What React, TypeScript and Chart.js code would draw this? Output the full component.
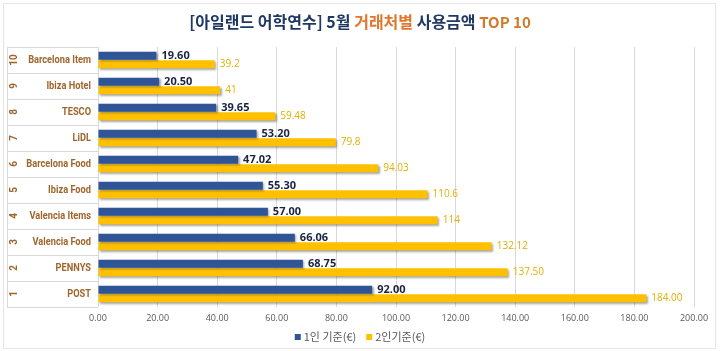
import React, { useEffect, useRef } from "react";
import { Chart, registerables } from "chart.js";

Chart.register(...registerables);

const ranks = ["10", "9", "8", "7", "6", "5", "4", "3", "2", "1"];
const categories = [
  "Barcelona Item",
  "Ibiza Hotel",
  "TESCO",
  "LiDL",
  "Barcelona Food",
  "Ibiza Food",
  "Valencia Items",
  "Valencia Food",
  "PENNYS",
  "POST",
];
const onePerson = [19.6, 20.5, 39.65, 53.2, 47.02, 55.3, 57.0, 66.06, 68.75, 92.0];
const onePersonLabels = ["19.60", "20.50", "39.65", "53.20", "47.02", "55.30", "57.00", "66.06", "68.75", "92.00"];
const twoPerson = [39.2, 41, 59.48, 79.8, 94.03, 110.6, 114, 132.12, 137.5, 184.0];
const twoPersonLabels = ["39.2", "41", "59.48", "79.8", "94.03", "110.6", "114", "132.12", "137.50", "184.00"];
const seriesNames = ["1인 기준(€)", "2인기준(€)"];
const xMin = 0;
const xMax = 200;
const xStep = 20;

const titleParts = [
  { text: "[아일랜드 어학연수] 5월 ", color: "#203864" },
  { text: "거래처별", color: "#e2762e" },
  { text: " 사용금액 ", color: "#203864" },
  { text: "TOP 10", color: "#d07a2c" },
];

const NAVY = "#2f5597";
const GOLD = "#ffc000";
const LABEL_BROWN = "#a0652c";
const LINE = "#d9d9d9";

const decorPlugin = {
  id: "decor",
  beforeDraw(chart: any) {
    const { ctx, width, height } = chart;
    ctx.save();
    ctx.fillStyle = "#ffffff";
    ctx.fillRect(0, 0, width, height);
    ctx.strokeStyle = "#e6e6e6";
    ctx.lineWidth = 1;
    ctx.strokeRect(3.5, 3.5, width - 8, height - 6);
    ctx.restore();
  },
  afterDraw(chart: any) {
    const { ctx, chartArea } = chart;
    const yScale = chart.scales.y;
    ctx.save();
    // title
    ctx.textBaseline = "middle";
    const fontFor = (i: number) =>
      i === 3 ? "bold 15px 'Noto Sans CJK KR', 'Noto Sans', sans-serif" : "bold 16px 'Noto Sans CJK KR', sans-serif";
    let total = 0;
    titleParts.forEach((p, i) => {
      ctx.font = fontFor(i);
      total += ctx.measureText(p.text).width;
    });
    let x = 360 - total / 2;
    titleParts.forEach((p, i) => {
      ctx.font = fontFor(i);
      ctx.fillStyle = p.color;
      ctx.textAlign = "left";
      ctx.fillText(p.text, x, 22);
      x += ctx.measureText(p.text).width;
    });

    // category box lines
    const n = categories.length;
    const step = yScale.getPixelForValue(1) - yScale.getPixelForValue(0);
    ctx.strokeStyle = LINE;
    ctx.lineWidth = 1;
    for (let i = 0; i <= n; i++) {
      const yy = Math.round(yScale.getPixelForValue(0) - step / 2 + i * step) + 0.5;
      ctx.beginPath();
      ctx.moveTo(7, yy);
      ctx.lineTo(chartArea.left, yy);
      ctx.stroke();
    }
    ctx.beginPath();
    ctx.moveTo(7.5, chartArea.top);
    ctx.lineTo(7.5, chartArea.bottom);
    ctx.stroke();

    // category names (condensed bold)
    ctx.fillStyle = LABEL_BROWN;
    ctx.textBaseline = "middle";
    ctx.textAlign = "right";
    ctx.font = "bold 11px Roboto, sans-serif";
    for (let i = 0; i < n; i++) {
      const yy = yScale.getPixelForValue(i);
      ctx.save();
      ctx.translate(91, yy);
      ctx.scale(0.84, 1);
      ctx.fillText(categories[i], 0, 0);
      ctx.restore();
    }

    // rank numbers rotated
    ctx.font = "bold 10px Roboto, sans-serif";
    ctx.textAlign = "center";
    for (let i = 0; i < n; i++) {
      const yy = yScale.getPixelForValue(i);
      ctx.save();
      ctx.translate(14, yy);
      ctx.rotate(-Math.PI / 2);
      ctx.fillText(ranks[i], 0, 0);
      ctx.restore();
    }

    // legend
    const colors = [NAVY, GOLD];
    ctx.font = "11px 'Noto Sans CJK KR', sans-serif";
    ctx.textAlign = "left";
    const box = 6;
    const gap = 3;
    const itemGap = 10;
    const widths = seriesNames.map((s) => box + gap + ctx.measureText(s).width);
    const totalW = widths[0] + widths[1] + itemGap;
    let lx = 360 - totalW / 2;
    const ly = 337;
    seriesNames.forEach((s, i) => {
      ctx.fillStyle = colors[i];
      ctx.fillRect(lx, ly - box / 2, box, box);
      ctx.fillStyle = "#595959";
      ctx.fillText(s, lx + box + gap, ly);
      lx += widths[i] + itemGap;
    });
    ctx.restore();
  },
  beforeDatasetsDraw(chart: any) {
    const ctx = chart.ctx;
    ctx.save();
    ctx.shadowColor = "rgba(0,0,0,0.35)";
    ctx.shadowOffsetX = 1.5;
    ctx.shadowOffsetY = 1.5;
    ctx.shadowBlur = 2;
  },
  afterDatasetsDraw(chart: any) {
    const ctx = chart.ctx;
    ctx.restore();
    ctx.save();
    ctx.textBaseline = "middle";
    ctx.textAlign = "left";
    const labelSets = [onePersonLabels, twoPersonLabels];
    chart.data.datasets.forEach((ds: any, di: number) => {
      const meta = chart.getDatasetMeta(di);
      if (meta.hidden) return;
      if (di === 0) {
        ctx.font = "bold 11px 'Open Sans', sans-serif";
        ctx.fillStyle = "#1a2440";
      } else {
        ctx.font = "10px 'Open Sans', sans-serif";
        ctx.fillStyle = "#e0b000";
      }
      meta.data.forEach((bar: any, i: number) => {
        ctx.fillText(labelSets[di][i], bar.x + 5, bar.y);
      });
    });
    ctx.restore();
  },
};

export default function App() {
  const ref = useRef<HTMLCanvasElement | null>(null);
  useEffect(() => {
    if (!ref.current) return;
    const chart = new Chart(ref.current, {
      type: "bar",
      data: {
        labels: categories,
        datasets: [
          {
            label: seriesNames[0],
            data: onePerson,
            backgroundColor: NAVY,
            borderWidth: 0,
            categoryPercentage: 0.64,
            barPercentage: 0.96,
          },
          {
            label: seriesNames[1],
            data: twoPerson,
            backgroundColor: GOLD,
            borderWidth: 0,
            categoryPercentage: 0.64,
            barPercentage: 0.96,
          },
        ],
      },
      options: {
        indexAxis: "y",
        responsive: false,
        animation: false,
        devicePixelRatio: 1,
        layout: { padding: { top: 47, right: 26, bottom: 22, left: 0 } },
        plugins: {
          title: { display: false },
          tooltip: { enabled: false },
          legend: { display: false },
        },
        scales: {
          x: {
            min: xMin,
            max: xMax,
            ticks: {
              stepSize: xStep,
              color: "#595959",
              padding: 6,
              font: { size: 9, family: "'Open Sans', sans-serif" },
              callback: (v: any) => Number(v).toFixed(2),
            },
            grid: { color: LINE, drawTicks: false },
            border: { display: false },
            afterFit: (s: any) => {
              s.height = 22;
            },
          },
          y: {
            ticks: { display: false },
            grid: { display: false, drawTicks: false },
            border: { display: false },
            afterFit: (s: any) => {
              s.width = 98;
            },
          },
        },
      },
      plugins: [decorPlugin],
    } as any);
    return () => chart.destroy();
  }, []);
  return (
    <div style={{ position: "fixed", left: 0, top: 0, width: 720, height: 351, background: "#fff" }}>
      <canvas ref={ref} width={720} height={351} style={{ display: "block" }} />
    </div>
  );
}
